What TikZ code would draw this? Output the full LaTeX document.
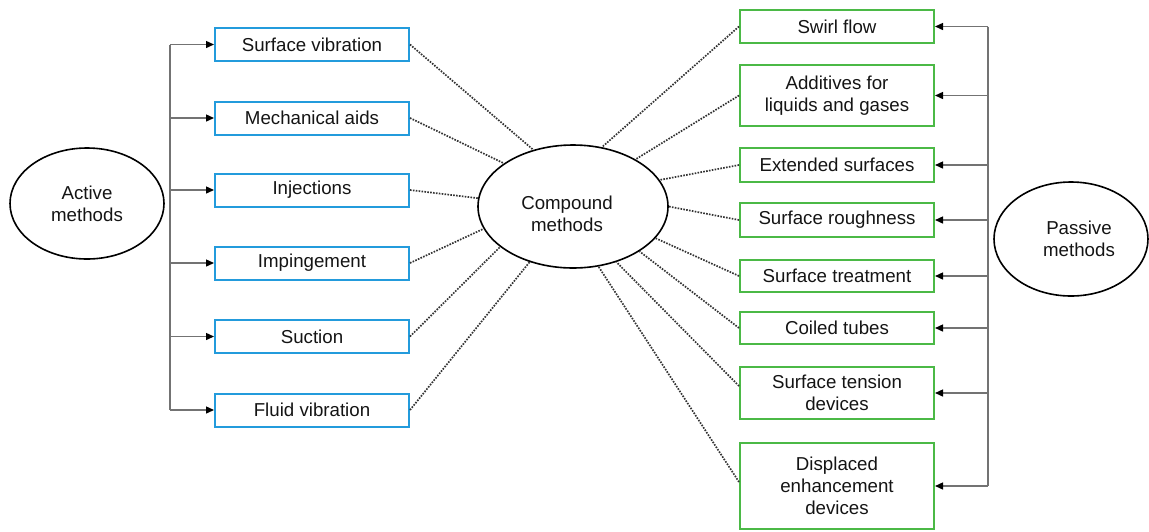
\documentclass[tikz,border=0pt]{standalone}
\usepackage{fontspec}
\setmainfont{Liberation Sans}
\usetikzlibrary{shapes.geometric,arrows.meta}
\definecolor{bbox}{RGB}{35,155,220}
\definecolor{gbox}{RGB}{75,185,70}
\definecolor{tcol}{RGB}{20,20,20}
\begin{document}
\begin{tikzpicture}[x=1pt,y=-1pt,
  font=\fontsize{18.7}{22.3}\selectfont, text=tcol,
  bluebox/.style={draw=bbox, line width=2pt, minimum width=194pt, minimum height=33pt, inner sep=0pt, align=center},
  greenbox/.style={draw=gbox, line width=2pt, minimum width=194pt, inner sep=0pt, align=center},
  oval/.style={ellipse, draw=black, line width=1.6pt, inner sep=0pt},
  lbl/.style={align=center, inner sep=0pt},
  trunk/.style={draw=black!55, line width=1.4pt},
  arr/.style={trunk, -{Triangle[length=8pt,width=7pt,color=black]}},
  dots/.style={draw=black!80, line width=1.7pt, dash pattern=on 1.6pt off 1.3pt}]
\useasboundingbox (0,0) rectangle (1149,531);

% ellipses
\node[oval, minimum width=154pt, minimum height=111pt] (act) at (87,203.5) {};
\node[lbl] (acttxt) at (act.center) {Active\\methods};
\node[oval, minimum width=190pt, minimum height=123pt] (comp) at (573,206.5) {};
\node[lbl] (comptxt) at ([xshift=-6pt,yshift=-7.5pt]comp.center) {Compound\\methods};
\node[oval, minimum width=154pt, minimum height=114pt] (pas) at (1071,239) {};
\node[lbl] (pastxt) at ([xshift=8pt]pas.center) {Passive\\methods};

% active boxes
\node[bluebox] (sv) at (312,44.5) {Surface vibration};
\node[bluebox] (ma) at (312,118) {Mechanical aids};
\node[bluebox] (inj) at (312,190) {Injections};
\node[bluebox] (imp) at (312,263) {Impingement};
\node[bluebox] (suc) at (312,336.5) {Suction};
\node[bluebox] (fv) at (312,410) {Fluid vibration};

% passive boxes
\node[greenbox, minimum height=33pt] (sw) at (837,26.5) {Swirl flow};
\node[greenbox, minimum height=61pt] (add) at (837,95.5) {Additives for\\liquids and gases};
\node[greenbox, minimum height=34pt] (ext) at (837,165) {Extended surfaces};
\node[greenbox, minimum height=34pt] (rou) at (837,220) {Surface roughness};
\node[greenbox, minimum height=32pt] (tre) at (837,276) {Surface treatment};
\node[greenbox, minimum height=32pt] (coi) at (837,328) {Coiled tubes};
\node[greenbox, minimum height=52pt] (ten) at (837,393) {Surface tension\\devices};
\node[greenbox, minimum height=86pt] (dis) at (837,486) {Displaced\\enhancement\\devices};

% trunks
\coordinate (tl) at (170,0);
\coordinate (tr) at (988,0);
\draw[trunk] (sv.west -| tl) -- (fv.west -| tl);
\foreach \b in {sv,ma,inj,imp,suc,fv}
  \draw[arr] (\b.west -| tl) -- (\b.west);
\draw[trunk] (sw.east -| tr) -- (dis.east -| tr);
\foreach \b in {sw,add,ext,rou,tre,coi,ten,dis}
  \draw[arr] (\b.east -| tr) -- (\b.east);

% dotted links to compound
\draw[dots] (sv.east) -- (comp.125.5);
\draw[dots] (ma.east) -- (comp.148);
\draw[dots] (inj.east) -- (comp.175.5);
\draw[dots] (imp.east) -- (comp.194.6);
\draw[dots] (suc.east) -- (comp.209.6);
\draw[dots] (fv.east) -- (comp.232.7);
\draw[dots] (sw.west) -- (comp.64.8);
\draw[dots] (add.west) -- (comp.37.3);
\draw[dots] (ext.west) -- (comp.17.2);
\draw[dots] (rou.west) -- (comp.0);
\draw[dots] (tre.west) -- (comp.339.7);
\draw[dots] (coi.west) -- (comp.326);
\draw[dots] ([yshift=7pt]ten.west) -- (comp.308.5);
\draw[dots] ([yshift=4pt]dis.west) -- (comp.293.7);
\end{tikzpicture}
\end{document}
